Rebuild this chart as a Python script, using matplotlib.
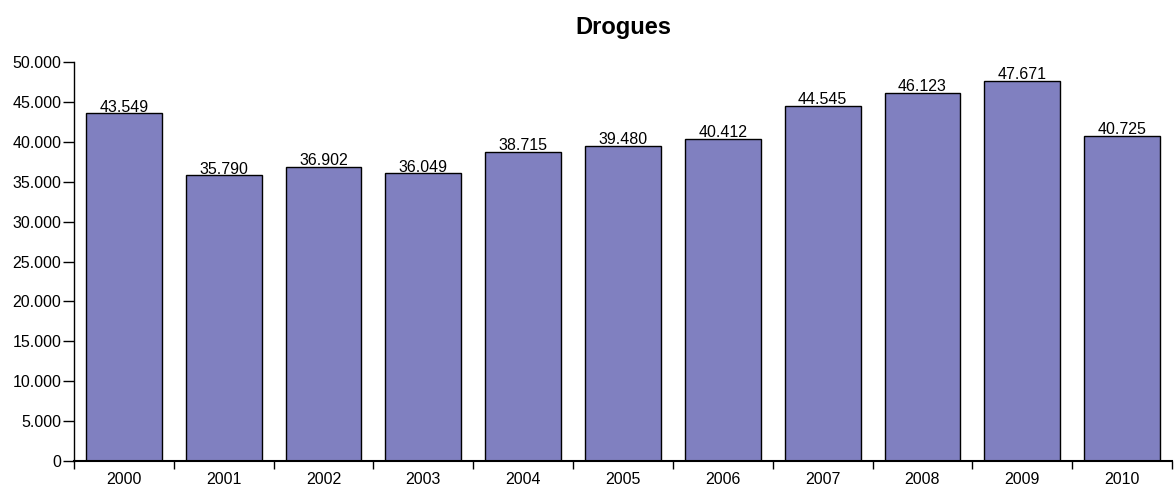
import numpy as np
import matplotlib
matplotlib.use("Agg")
import matplotlib.pyplot as plt
from matplotlib.ticker import FuncFormatter, FixedLocator

years = ["2000", "2001", "2002", "2003", "2004", "2005", "2006", "2007", "2008", "2009", "2010"]
values = [43549, 35790, 36902, 36049, 38715, 39480, 40412, 44545, 46123, 47671, 40725]

plt.rcParams['font.family'] = ['Liberation Sans', 'DejaVu Sans']

fig = plt.figure(figsize=(11.74, 4.88), dpi=100)
ax = fig.add_axes([74 / 1174, 27 / 488, 1098 / 1174, 399 / 488])

x = np.arange(len(years))
ax.bar(x, values, width=0.76, color="#8080c0", edgecolor="black", linewidth=1.0)

def dotfmt(v, pos=None):
    return f"{int(round(v)):,}".replace(",", ".")

for xi, v in zip(x, values):
    ax.text(xi, v + 200, dotfmt(v), ha="center", va="baseline", fontsize=11.5)

ax.set_xlim(-0.5, len(years) - 0.5)
ax.set_ylim(0, 50000)
ax.set_yticks(np.arange(0, 50001, 5000))
ax.yaxis.set_major_formatter(FuncFormatter(dotfmt))

ax.set_xticks(x)
ax.set_xticklabels(years)
ax.xaxis.set_minor_locator(FixedLocator(np.arange(-0.5, len(years), 1.0)))
ax.tick_params(axis="x", which="major", length=0, pad=8, labelsize=11.5)
ax.tick_params(axis="x", which="minor", length=6, width=1, direction="out")
ax.tick_params(axis="y", length=8, width=1, labelsize=11.5, pad=1)

ax.spines["top"].set_visible(False)
ax.spines["right"].set_visible(False)
ax.spines["left"].set_linewidth(1)
ax.spines["bottom"].set_linewidth(1.5)

ax.set_title("Drogues", fontsize=17, fontweight="bold", pad=20)

fig.savefig("out.png", dpi=100)
